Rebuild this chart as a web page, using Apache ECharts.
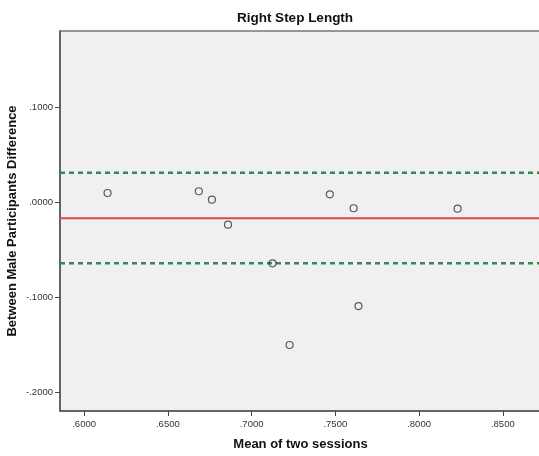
<!DOCTYPE html>
<html>
<head>
<meta charset="utf-8">
<script src="https://cdn.jsdelivr.net/npm/echarts@6/dist/echarts.min.js"></script>
<style>html,body{margin:0;padding:0;background:#fff;}#c{width:539px;height:456px;}</style>
</head>
<body>
<div id="c"></div>
<script>
const meanOfSessions = [0.6140, 0.6685, 0.6763, 0.6859, 0.7125, 0.7227, 0.7467, 0.7609, 0.7638, 0.8230];
const differences = [0.0095, 0.0113, 0.0024, -0.0239, -0.0645, -0.1505, 0.0081, -0.0066, -0.1095, -0.0070];
const meanDifference = -0.0172;
const upperLimit = 0.0309;
const lowerLimit = -0.0645;
const xRange = [0.5856, 0.8728];
const yRange = [-0.22, 0.18];
const xTicks = [0.60, 0.65, 0.70, 0.75, 0.80, 0.85];
const yTicks = [-0.2, -0.1, 0.0, 0.1];

function fmt(v) {
  const s = Math.abs(v).toFixed(4).replace(/^0/, '');
  return (v < -1e-9 ? '-' : '') + s;
}
function hLine(v) { return [[xRange[0], v], [xRange[1], v]]; }

const chart = echarts.init(document.getElementById('c'), null, {renderer: 'canvas'});
const font = '"Liberation Sans", Arial, sans-serif';
chart.setOption({
  animation: false,
  backgroundColor: '#ffffff',
  title: {
    text: 'Right Step Length',
    left: 290, top: 6, textAlign: 'center',
    textStyle: {fontFamily: font, fontSize: 13.5, fontWeight: 'bold', color: '#111'}
  },
  grid: {
    left: 60, top: 31, right: -2, bottom: 45,
    containLabel: false, outerBoundsMode: 'none',
    show: true, backgroundColor: '#f0f0f0', borderColor: '#777', borderWidth: 1.5
  },
  xAxis: {
    type: 'value', min: xRange[0], max: xRange[1],
    name: 'Mean of two sessions', nameLocation: 'middle', nameGap: 27, nameMoveOverlap: false,
    nameTextStyle: {fontFamily: font, fontSize: 13, fontWeight: 'bold', color: '#111'},
    axisLine: {show: true, onZero: false, lineStyle: {color: '#555', width: 1.5}},
    axisTick: {show: true, inside: false, length: 5, customValues: xTicks, lineStyle: {color: '#444', width: 1}},
    axisLabel: {customValues: xTicks, formatter: fmt, fontFamily: font, fontSize: 9.5, color: '#333', margin: 8},
    splitLine: {show: false}
  },
  yAxis: {
    type: 'value', min: yRange[0], max: yRange[1],
    name: 'Between Male Participants Difference', nameLocation: 'middle', nameGap: 41, nameMoveOverlap: false,
    nameTextStyle: {fontFamily: font, fontSize: 13, fontWeight: 'bold', color: '#111'},
    axisLine: {show: true, onZero: false, lineStyle: {color: '#555', width: 1.5}},
    axisTick: {show: true, inside: false, length: 5, customValues: yTicks, lineStyle: {color: '#444', width: 1}},
    axisLabel: {customValues: yTicks, formatter: fmt, fontFamily: font, fontSize: 9.5, color: '#333', margin: 7},
    splitLine: {show: false}
  },
  series: [
    {
      type: 'line', data: hLine(upperLimit), symbol: 'none', silent: true, z: 2,
      lineStyle: {color: '#2e8b57', width: 2.5, type: [5, 4]}
    },
    {
      type: 'line', data: hLine(meanDifference), symbol: 'none', silent: true, z: 2,
      lineStyle: {color: '#e04848', width: 2, type: 'solid'}
    },
    {
      type: 'line', data: hLine(lowerLimit), symbol: 'none', silent: true, z: 2,
      lineStyle: {color: '#2e8b57', width: 2.5, type: [5, 4]}
    },
    {
      type: 'scatter',
      data: meanOfSessions.map((x, i) => [x, differences[i]]),
      symbol: 'circle', symbolSize: 7,
      itemStyle: {color: 'rgba(0,0,0,0)', borderColor: '#333', borderWidth: 1.2},
      z: 5
    }
  ]
});
</script>
</body>
</html>
